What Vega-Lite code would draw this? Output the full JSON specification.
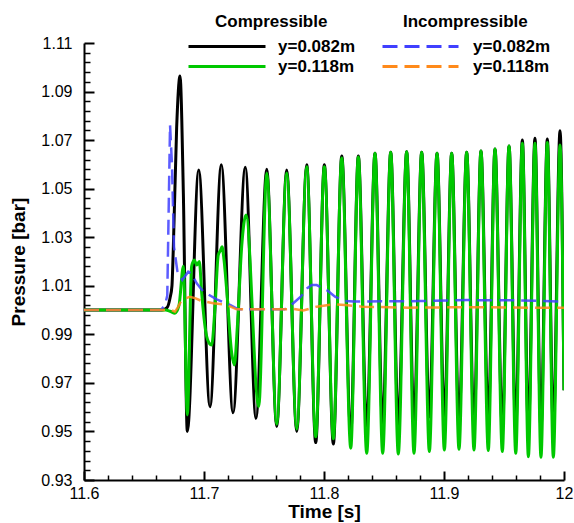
{
  "$schema": "https://vega.github.io/schema/vega-lite/v6.json",
  "width": 480,
  "height": 437,
  "autosize": {"type": "none"},
  "padding": {"left": 84, "top": 43, "right": 10, "bottom": 43},
  "background": "white",
  "config": {
    "view": {"stroke": null},
    "font": "Liberation Sans",
    "axis": {"grid": false, "domainColor": "black", "tickColor": "black", "labelColor": "black", "titleColor": "black", "labelFlush": false, "labelOverlap": false}
  },
  "datasets": {
    "comp": [
      {"t": 11.6, "p": 1.0, "probe": "y=0.082m"},
      {"t": 11.665, "p": 1.0, "probe": "y=0.082m"},
      {"t": 11.6692, "p": 1.001, "probe": "y=0.082m"},
      {"t": 11.6717, "p": 1.005, "probe": "y=0.082m"},
      {"t": 11.6733, "p": 1.01, "probe": "y=0.082m"},
      {"t": 11.6744, "p": 1.025, "probe": "y=0.082m"},
      {"t": 11.6772, "p": 1.075, "probe": "y=0.082m"},
      {"t": 11.68, "p": 1.0964, "probe": "y=0.082m"},
      {"t": 11.6828, "p": 1.048, "probe": "y=0.082m"},
      {"t": 11.6861, "p": 0.95, "probe": "y=0.082m"},
      {"t": 11.6956, "p": 1.0577, "probe": "y=0.082m"},
      {"t": 11.705, "p": 0.9602, "probe": "y=0.082m"},
      {"t": 11.7144, "p": 1.0598, "probe": "y=0.082m"},
      {"t": 11.7242, "p": 0.9577, "probe": "y=0.082m"},
      {"t": 11.7344, "p": 1.0588, "probe": "y=0.082m"},
      {"t": 11.7433, "p": 0.9554, "probe": "y=0.082m"},
      {"t": 11.7523, "p": 1.058, "probe": "y=0.082m"},
      {"t": 11.7606, "p": 0.952, "probe": "y=0.082m"},
      {"t": 11.7689, "p": 1.0577, "probe": "y=0.082m"},
      {"t": 11.7773, "p": 0.95, "probe": "y=0.082m"},
      {"t": 11.7856, "p": 1.0598, "probe": "y=0.082m"},
      {"t": 11.7931, "p": 0.9454, "probe": "y=0.082m"},
      {"t": 11.8003, "p": 1.0598, "probe": "y=0.082m"},
      {"t": 11.8078, "p": 0.9448, "probe": "y=0.082m"},
      {"t": 11.8148, "p": 1.0635, "probe": "y=0.082m"},
      {"t": 11.8223, "p": 0.9494, "probe": "y=0.082m"},
      {"t": 11.8286, "p": 1.0635, "probe": "y=0.082m"},
      {"t": 11.8356, "p": 0.9513, "probe": "y=0.082m"},
      {"t": 11.8425, "p": 1.0646, "probe": "y=0.082m"},
      {"t": 11.8489, "p": 0.9527, "probe": "y=0.082m"},
      {"t": 11.8556, "p": 1.065, "probe": "y=0.082m"},
      {"t": 11.8619, "p": 0.953, "probe": "y=0.082m"},
      {"t": 11.8689, "p": 1.0652, "probe": "y=0.082m"},
      {"t": 11.875, "p": 0.954, "probe": "y=0.082m"},
      {"t": 11.8814, "p": 1.065, "probe": "y=0.082m"},
      {"t": 11.8878, "p": 0.956, "probe": "y=0.082m"},
      {"t": 11.8942, "p": 1.0646, "probe": "y=0.082m"},
      {"t": 11.9003, "p": 0.9554, "probe": "y=0.082m"},
      {"t": 11.9064, "p": 1.0646, "probe": "y=0.082m"},
      {"t": 11.9125, "p": 0.954, "probe": "y=0.082m"},
      {"t": 11.9189, "p": 1.065, "probe": "y=0.082m"},
      {"t": 11.925, "p": 0.9527, "probe": "y=0.082m"},
      {"t": 11.9308, "p": 1.0655, "probe": "y=0.082m"},
      {"t": 11.9369, "p": 0.9554, "probe": "y=0.082m"},
      {"t": 11.9425, "p": 1.0663, "probe": "y=0.082m"},
      {"t": 11.9486, "p": 0.9513, "probe": "y=0.082m"},
      {"t": 11.9542, "p": 1.0676, "probe": "y=0.082m"},
      {"t": 11.9598, "p": 0.952, "probe": "y=0.082m"},
      {"t": 11.9653, "p": 1.07, "probe": "y=0.082m"},
      {"t": 11.9703, "p": 0.951, "probe": "y=0.082m"},
      {"t": 11.9758, "p": 1.0708, "probe": "y=0.082m"},
      {"t": 11.9808, "p": 0.951, "probe": "y=0.082m"},
      {"t": 11.9861, "p": 1.0705, "probe": "y=0.082m"},
      {"t": 11.9911, "p": 0.951, "probe": "y=0.082m"},
      {"t": 11.9967, "p": 1.0739, "probe": "y=0.082m"},
      {"t": 12.0, "p": 0.967, "probe": "y=0.082m"},
      {"t": 11.6, "p": 1.0, "probe": "y=0.118m"},
      {"t": 11.668, "p": 1.0, "probe": "y=0.118m"},
      {"t": 11.6717, "p": 0.9995, "probe": "y=0.118m"},
      {"t": 11.6758, "p": 0.9987, "probe": "y=0.118m"},
      {"t": 11.6792, "p": 1.002, "probe": "y=0.118m"},
      {"t": 11.6828, "p": 1.018, "probe": "y=0.118m"},
      {"t": 11.6861, "p": 0.9568, "probe": "y=0.118m"},
      {"t": 11.6897, "p": 1.018, "probe": "y=0.118m"},
      {"t": 11.6919, "p": 1.0206, "probe": "y=0.118m"},
      {"t": 11.6939, "p": 1.0186, "probe": "y=0.118m"},
      {"t": 11.6961, "p": 1.02, "probe": "y=0.118m"},
      {"t": 11.6981, "p": 1.0069, "probe": "y=0.118m"},
      {"t": 11.7017, "p": 0.9904, "probe": "y=0.118m"},
      {"t": 11.7044, "p": 0.9863, "probe": "y=0.118m"},
      {"t": 11.7064, "p": 0.9856, "probe": "y=0.118m"},
      {"t": 11.7092, "p": 1.0014, "probe": "y=0.118m"},
      {"t": 11.7119, "p": 1.0227, "probe": "y=0.118m"},
      {"t": 11.7139, "p": 1.0247, "probe": "y=0.118m"},
      {"t": 11.715, "p": 1.0261, "probe": "y=0.118m"},
      {"t": 11.7167, "p": 1.0206, "probe": "y=0.118m"},
      {"t": 11.7189, "p": 1.0083, "probe": "y=0.118m"},
      {"t": 11.7231, "p": 0.9822, "probe": "y=0.118m"},
      {"t": 11.7253, "p": 0.9774, "probe": "y=0.118m"},
      {"t": 11.7278, "p": 0.9932, "probe": "y=0.118m"},
      {"t": 11.7314, "p": 1.0261, "probe": "y=0.118m"},
      {"t": 11.735, "p": 1.0392, "probe": "y=0.118m"},
      {"t": 11.7456, "p": 0.9602, "probe": "y=0.118m"},
      {"t": 11.7523, "p": 1.0563, "probe": "y=0.118m"},
      {"t": 11.7606, "p": 0.953, "probe": "y=0.118m"},
      {"t": 11.7689, "p": 1.0565, "probe": "y=0.118m"},
      {"t": 11.7773, "p": 0.951, "probe": "y=0.118m"},
      {"t": 11.7856, "p": 1.059, "probe": "y=0.118m"},
      {"t": 11.7931, "p": 0.9478, "probe": "y=0.118m"},
      {"t": 11.8003, "p": 1.059, "probe": "y=0.118m"},
      {"t": 11.8078, "p": 0.947, "probe": "y=0.118m"},
      {"t": 11.8148, "p": 1.0626, "probe": "y=0.118m"},
      {"t": 11.8223, "p": 0.9431, "probe": "y=0.118m"},
      {"t": 11.8286, "p": 1.063, "probe": "y=0.118m"},
      {"t": 11.8356, "p": 0.941, "probe": "y=0.118m"},
      {"t": 11.8425, "p": 1.0646, "probe": "y=0.118m"},
      {"t": 11.8489, "p": 0.941, "probe": "y=0.118m"},
      {"t": 11.8556, "p": 1.065, "probe": "y=0.118m"},
      {"t": 11.8619, "p": 0.9407, "probe": "y=0.118m"},
      {"t": 11.8689, "p": 1.0652, "probe": "y=0.118m"},
      {"t": 11.875, "p": 0.941, "probe": "y=0.118m"},
      {"t": 11.8814, "p": 1.065, "probe": "y=0.118m"},
      {"t": 11.8878, "p": 0.9417, "probe": "y=0.118m"},
      {"t": 11.8942, "p": 1.0646, "probe": "y=0.118m"},
      {"t": 11.9003, "p": 0.9424, "probe": "y=0.118m"},
      {"t": 11.9064, "p": 1.0646, "probe": "y=0.118m"},
      {"t": 11.9125, "p": 0.9427, "probe": "y=0.118m"},
      {"t": 11.9189, "p": 1.065, "probe": "y=0.118m"},
      {"t": 11.925, "p": 0.9424, "probe": "y=0.118m"},
      {"t": 11.9308, "p": 1.0655, "probe": "y=0.118m"},
      {"t": 11.9369, "p": 0.9421, "probe": "y=0.118m"},
      {"t": 11.9425, "p": 1.0663, "probe": "y=0.118m"},
      {"t": 11.9486, "p": 0.9417, "probe": "y=0.118m"},
      {"t": 11.9542, "p": 1.0676, "probe": "y=0.118m"},
      {"t": 11.9598, "p": 0.941, "probe": "y=0.118m"},
      {"t": 11.9653, "p": 1.0687, "probe": "y=0.118m"},
      {"t": 11.9703, "p": 0.9396, "probe": "y=0.118m"},
      {"t": 11.9758, "p": 1.0687, "probe": "y=0.118m"},
      {"t": 11.9808, "p": 0.9394, "probe": "y=0.118m"},
      {"t": 11.9861, "p": 1.069, "probe": "y=0.118m"},
      {"t": 11.9911, "p": 0.9394, "probe": "y=0.118m"},
      {"t": 11.9967, "p": 1.068, "probe": "y=0.118m"},
      {"t": 12.0, "p": 0.967, "probe": "y=0.118m"}
    ],
    "incomp": [
      {"t": 11.6, "p": 1.0, "probe": "y=0.082m"},
      {"t": 11.664, "p": 1.0, "probe": "y=0.082m"},
      {"t": 11.6675, "p": 1.002, "probe": "y=0.082m"},
      {"t": 11.6694, "p": 1.006, "probe": "y=0.082m"},
      {"t": 11.6717, "p": 1.0762, "probe": "y=0.082m"},
      {"t": 11.6733, "p": 1.06, "probe": "y=0.082m"},
      {"t": 11.675, "p": 1.026, "probe": "y=0.082m"},
      {"t": 11.6778, "p": 1.016, "probe": "y=0.082m"},
      {"t": 11.6819, "p": 1.0124, "probe": "y=0.082m"},
      {"t": 11.6869, "p": 1.0158, "probe": "y=0.082m"},
      {"t": 11.6897, "p": 1.015, "probe": "y=0.082m"},
      {"t": 11.6939, "p": 1.011, "probe": "y=0.082m"},
      {"t": 11.6994, "p": 1.0076, "probe": "y=0.082m"},
      {"t": 11.7106, "p": 1.0044, "probe": "y=0.082m"},
      {"t": 11.7217, "p": 1.0021, "probe": "y=0.082m"},
      {"t": 11.7286, "p": 1.0003, "probe": "y=0.082m"},
      {"t": 11.7672, "p": 1.0003, "probe": "y=0.082m"},
      {"t": 11.7728, "p": 1.0021, "probe": "y=0.082m"},
      {"t": 11.7806, "p": 1.0055, "probe": "y=0.082m"},
      {"t": 11.7861, "p": 1.009, "probe": "y=0.082m"},
      {"t": 11.7897, "p": 1.0103, "probe": "y=0.082m"},
      {"t": 11.7939, "p": 1.0103, "probe": "y=0.082m"},
      {"t": 11.8022, "p": 1.0083, "probe": "y=0.082m"},
      {"t": 11.8092, "p": 1.0055, "probe": "y=0.082m"},
      {"t": 11.8175, "p": 1.0037, "probe": "y=0.082m"},
      {"t": 11.825, "p": 1.0035, "probe": "y=0.082m"},
      {"t": 11.88, "p": 1.0037, "probe": "y=0.082m"},
      {"t": 11.92, "p": 1.0041, "probe": "y=0.082m"},
      {"t": 11.96, "p": 1.004, "probe": "y=0.082m"},
      {"t": 12.0, "p": 1.0035, "probe": "y=0.082m"},
      {"t": 11.6, "p": 1.0, "probe": "y=0.118m"},
      {"t": 11.6725, "p": 1.0, "probe": "y=0.118m"},
      {"t": 11.6758, "p": 0.9993, "probe": "y=0.118m"},
      {"t": 11.6781, "p": 1.001, "probe": "y=0.118m"},
      {"t": 11.6814, "p": 1.0042, "probe": "y=0.118m"},
      {"t": 11.6858, "p": 1.005, "probe": "y=0.118m"},
      {"t": 11.6883, "p": 1.0055, "probe": "y=0.118m"},
      {"t": 11.6931, "p": 1.0048, "probe": "y=0.118m"},
      {"t": 11.6981, "p": 1.0037, "probe": "y=0.118m"},
      {"t": 11.7078, "p": 1.0028, "probe": "y=0.118m"},
      {"t": 11.7189, "p": 1.0021, "probe": "y=0.118m"},
      {"t": 11.7272, "p": 1.0003, "probe": "y=0.118m"},
      {"t": 11.7672, "p": 1.0003, "probe": "y=0.118m"},
      {"t": 11.7744, "p": 1.0005, "probe": "y=0.118m"},
      {"t": 11.7828, "p": 0.9998, "probe": "y=0.118m"},
      {"t": 11.7939, "p": 1.0014, "probe": "y=0.118m"},
      {"t": 11.8075, "p": 1.0024, "probe": "y=0.118m"},
      {"t": 11.8175, "p": 1.0021, "probe": "y=0.118m"},
      {"t": 11.8317, "p": 1.0014, "probe": "y=0.118m"},
      {"t": 11.87, "p": 1.001, "probe": "y=0.118m"},
      {"t": 11.93, "p": 1.0012, "probe": "y=0.118m"},
      {"t": 11.97, "p": 1.001, "probe": "y=0.118m"},
      {"t": 12.0, "p": 1.001, "probe": "y=0.118m"}
    ]
  },
  "layer": [
    {
      "data": {"name": "comp"},
      "mark": {"type": "line", "interpolate": "monotone", "strokeWidth": 3, "clip": true},
      "encoding": {
        "x": {
          "field": "t", "type": "quantitative",
          "scale": {"domain": [11.6, 12], "nice": false, "zero": false},
          "axis": {
            "orient": "bottom", "title": "Time [s]",
            "values": [11.6, 11.7, 11.8, 11.9, 12],
            "labelExpr": "datum.value == 12 ? '12' : format(datum.value, '.1f')",
            "tickSize": -9, "tickWidth": 2, "domainWidth": 2,
            "labelFontSize": 16, "labelPadding": 14,
            "titleFontSize": 19, "titleFontWeight": "bold", "titlePadding": 1
          }
        },
        "y": {
          "field": "p", "type": "quantitative",
          "scale": {"domain": [0.93, 1.11], "nice": false, "zero": false},
          "axis": {
            "orient": "left", "title": "Pressure [bar]",
            "values": [0.93, 0.95, 0.97, 0.99, 1.01, 1.03, 1.05, 1.07, 1.09, 1.11],
            "format": ".2f",
            "tickSize": -10, "tickWidth": 2, "domainWidth": 2,
            "labelFontSize": 16, "labelPadding": 22,
            "titleFontSize": 19, "titleFontWeight": "bold", "titlePadding": 12
          }
        },
        "color": {
          "field": "probe", "type": "nominal",
          "scale": {"domain": ["y=0.082m", "y=0.118m"], "range": ["#000000", "#00c800"]},
          "legend": {
            "title": "Compressible", "orient": "none", "legendX": 131, "legendY": -29,
            "direction": "vertical", "symbolType": "M-8.75,0H10.5", "symbolSize": 64, "symbolStrokeWidth": 3,
            "rowPadding": 2, "titlePadding": 7, "labelOffset": 46, "padding": 0,
            "titleAnchor": "start", "titleAlign": "left",
            "labelFontSize": 17, "labelFontWeight": "bold", "titleFontSize": 17, "titleFontWeight": "bold",
            "labelColor": "black", "titleColor": "black", "labelLimit": 300, "titleLimit": 300
          }
        }
      }
    },
    {
      "data": {"name": "incomp"},
      "mark": {"type": "line", "strokeWidth": 2.5, "strokeDash": [15, 7], "strokeOpacity": 0.85, "clip": true},
      "encoding": {
        "x": {
          "field": "t", "type": "quantitative",
          "axis": {
            "orient": "bottom", "title": null, "labels": false, "domain": false,
            "values": [11.62, 11.64, 11.66, 11.68, 11.72, 11.74, 11.76, 11.78, 11.82, 11.84, 11.86, 11.88, 11.92, 11.94, 11.96, 11.98],
            "tickSize": -5, "tickWidth": 1.5
          }
        },
        "y": {
          "field": "p", "type": "quantitative",
          "axis": {
            "orient": "left", "title": null, "labels": false, "domain": false,
            "values": [0.934, 0.938, 0.942, 0.946, 0.954, 0.958, 0.962, 0.966, 0.974, 0.978, 0.982, 0.986, 0.994, 0.998, 1.002, 1.006, 1.014, 1.018, 1.022, 1.026, 1.034, 1.038, 1.042, 1.046, 1.054, 1.058, 1.062, 1.066, 1.074, 1.078, 1.082, 1.086, 1.094, 1.098, 1.102, 1.106],
            "tickSize": -6, "tickWidth": 1.5
          }
        },
        "color": {
          "field": "probe", "type": "nominal",
          "scale": {"domain": ["y=0.082m", "y=0.118m"], "range": ["#4040ff", "#ff8a1a"]},
          "legend": {
            "title": "Incompressible", "orient": "none", "legendX": 319, "legendY": -29,
            "direction": "vertical", "symbolType": "M-7.25,0H11.75", "symbolSize": 64, "symbolStrokeWidth": 3,
            "symbolDash": [15, 7],
            "rowPadding": 2, "titlePadding": 7, "labelOffset": 53, "padding": 0,
            "titleAnchor": "start", "titleAlign": "left",
            "labelFontSize": 17, "labelFontWeight": "bold", "titleFontSize": 17, "titleFontWeight": "bold",
            "labelColor": "black", "titleColor": "black", "labelLimit": 300, "titleLimit": 300
          }
        }
      }
    }
  ],
  "resolve": {"scale": {"color": "independent"}, "axis": {"x": "independent", "y": "independent"}}
}
